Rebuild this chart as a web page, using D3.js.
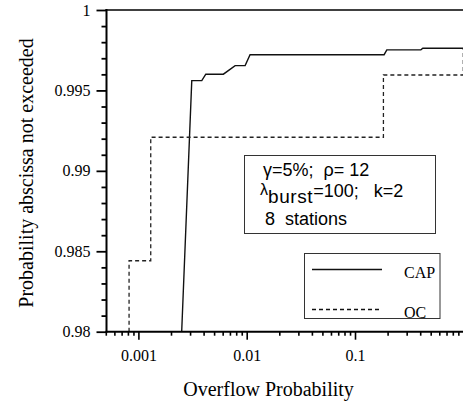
<!DOCTYPE html>
<html>
<head>
<meta charset="utf-8">
<script src="https://cdn.jsdelivr.net/npm/d3@7"></script>
<style>
  html, body { margin: 0; padding: 0; background: #fff; }
  svg { display: block; }
</style>
</head>
<body>
<svg id="chart" width="463" height="405"></svg>
<script>
// ---- data ----
const capX = [0.00251, 0.00311, 0.00385, 0.00419, 0.00609, 0.00782, 0.00967, 0.01074, 0.1857, 0.1967, 0.4055, 0.4229, 1];
const capY = [0.98, 0.99561, 0.99561, 0.99601, 0.99601, 0.99654, 0.99654, 0.99722, 0.99722, 0.99752, 0.99752, 0.99762, 0.99762];
const ocX = [0.00082, 0.00082, 0.00130, 0.183, 1];
const ocY = [0.98, 0.98441, 0.99209, 0.99596, 0.99762];
const yTickValues = [0.98, 0.985, 0.99, 0.995, 1];
const yTickLabels = ["0.98", "0.985", "0.99", "0.995", "1"];
const xTickValues = [0.001, 0.01, 0.1];
const xTickLabels = ["0.001", "0.01", "0.1"];
const seriesNames = ["CAP", "OC"];
const xTitle = "Overflow Probability";
const yTitle = "Probability abscissa not exceeded";

// ---- layout ----
const svg = d3.select("#chart");
const x = d3.scaleLog().domain([0.0005, 1]).range([105.8, 463.3]);
const y = d3.scaleLinear().domain([0.98, 1]).range([331.7, 10]);
const x0 = 106.5, yB = 331.7;

const serif = "'Liberation Serif', 'Times New Roman', serif";
const sans = "'Liberation Sans', Arial, Helvetica, sans-serif";

// clip
svg.append("clipPath").attr("id", "clip").append("rect")
  .attr("x", x0).attr("y", 10).attr("width", 463 - x0).attr("height", yB - 10);

// series
const capData = capX.map((d, i) => [d, capY[i]]);
const ocData = ocX.map((d, i) => [d, ocY[i]]);
const gPlot = svg.append("g").attr("clip-path", "url(#clip)");
gPlot.append("path")
  .attr("d", d3.line().x(d => x(d[0])).y(d => y(d[1]))(capData))
  .attr("fill", "none").attr("stroke", "#111").attr("stroke-width", 1.4);
gPlot.append("path")
  .attr("d", d3.line().curve(d3.curveStepAfter).x(d => x(d[0])).y(d => y(d[1]))(ocData))
  .attr("fill", "none").attr("stroke", "#222").attr("stroke-width", 1.3)
  .attr("stroke-dasharray", "4,3");

// minor tick lists
const yMinor = d3.range(0.98, 1.0001, 0.001).map(v => +v.toFixed(3)).filter(v => !yTickValues.some(t => Math.abs(t - v) < 1e-9));
const xMinor = [];
[0.0001, 0.001, 0.01, 0.1].forEach(dec => {
  for (let k = 2; k <= 9; k++) {
    const v = dec * k;
    if (v >= 0.0005 && v < 1) xMinor.push(v);
  }
});

// y axis
const yAxisMajor = d3.axisLeft(y).tickValues(yTickValues)
  .tickFormat((d, i) => yTickLabels[i]).tickSize(10).tickPadding(6);
const gy = svg.append("g").attr("transform", `translate(${x0},0)`).call(yAxisMajor);
const yAxisMinor = d3.axisLeft(y).tickValues(yMinor).tickFormat("").tickSize(5);
const gy2 = svg.append("g").attr("transform", `translate(${x0},0)`).call(yAxisMinor);
[gy, gy2].forEach(g => {
  g.select(".domain").remove();
  g.selectAll("line").attr("stroke", "#000").attr("stroke-width", 1.8);
});
gy.selectAll("text").attr("font-family", serif).attr("font-size", 16).attr("fill", "#000");

// x axis
const xAxisMajor = d3.axisBottom(x).tickValues(xTickValues)
  .tickFormat((d, i) => xTickLabels[i]).tickSize(8).tickPadding(10);
const gx = svg.append("g").attr("transform", `translate(0,${yB})`).call(xAxisMajor);
const xAxisMinor = d3.axisBottom(x).tickValues(xMinor).tickFormat("").tickSize(4);
const gx2 = svg.append("g").attr("transform", `translate(0,${yB})`).call(xAxisMinor);
[gx, gx2].forEach(g => {
  g.select(".domain").remove();
  g.selectAll("line").attr("stroke", "#000").attr("stroke-width", 1.6);
});
gx.selectAll("text").attr("font-family", serif).attr("font-size", 16).attr("fill", "#000");

// axis lines & top frame
svg.append("line").attr("x1", x0).attr("x2", x0).attr("y1", 9).attr("y2", yB + 1)
  .attr("stroke", "#000").attr("stroke-width", 2);
svg.append("line").attr("x1", x0 - 1).attr("x2", 463).attr("y1", yB).attr("y2", yB)
  .attr("stroke", "#000").attr("stroke-width", 2);
svg.append("line").attr("x1", x0 - 1).attr("x2", 463).attr("y1", 10).attr("y2", 10)
  .attr("stroke", "#000").attr("stroke-width", 1.6);

// titles
svg.append("text").attr("x", (x(0.0005) + x(1)) / 2 - 16).attr("y", 396)
  .attr("text-anchor", "middle").attr("font-family", serif).attr("font-size", 20)
  .text(xTitle);
svg.append("text").attr("transform", "translate(33,173) rotate(-90)")
  .attr("text-anchor", "middle").attr("font-family", serif).attr("font-size", 20)
  .text(yTitle);

// parameter box
svg.append("rect").attr("x", 244.5).attr("y", 155.5).attr("width", 191).attr("height", 78)
  .attr("fill", "#fff").attr("stroke", "#333").attr("stroke-width", 1);
const pt = svg.append("g").attr("font-family", sans).attr("font-size", 18).attr("fill", "#000");
pt.append("text").attr("x", 263).attr("y", 176).attr("xml:space", "preserve").text("γ=5%;  ρ= 12");
const t2 = pt.append("text").attr("x", 260).attr("y", 197).attr("xml:space", "preserve");
t2.append("tspan").attr("font-size", 16).attr("dy", -2).text("λ");
t2.append("tspan").attr("dy", 8).attr("font-size", 19).attr("letter-spacing", 0.6).text("burst");
t2.append("tspan").attr("dy", -6).text("=100;   k=2");
pt.append("text").attr("x", 265).attr("y", 225).attr("xml:space", "preserve").text("8  stations");

// legend
svg.append("rect").attr("x", 304.5).attr("y", 253.5).attr("width", 135.5).attr("height", 65)
  .attr("fill", "#fff").attr("stroke", "#333").attr("stroke-width", 1);
const legY = [269.5, 309.5];
const legDash = [null, "4,3"];
seriesNames.forEach((name, i) => {
  svg.append("line").attr("x1", 312).attr("x2", 382).attr("y1", legY[i]).attr("y2", legY[i])
    .attr("stroke", "#111").attr("stroke-width", 1.3)
    .attr("stroke-dasharray", legDash[i]);
  svg.append("text").attr("x", 404).attr("y", legY[i] + 8)
    .attr("font-family", serif).attr("font-size", 16).text(name);
});
</script>
</body>
</html>
